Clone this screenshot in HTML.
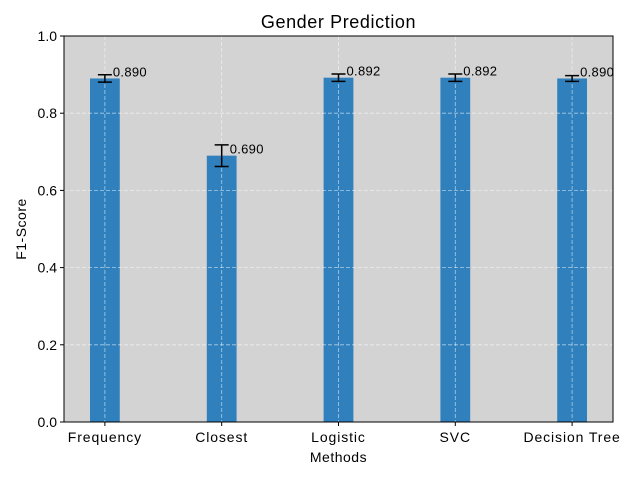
<!DOCTYPE html>
<html><head><meta charset="utf-8"><style>
body{margin:0;background:#fff}
text{font-family:"Liberation Sans","DejaVu Sans",sans-serif;fill:#000}
</style></head><body>
<svg id="chart" width="640" height="480" xmlns="http://www.w3.org/2000/svg"></svg>
<script>
const categories=["Frequency","Closest","Logistic","SVC","Decision Tree"];
const values=[0.890,0.690,0.892,0.892,0.890];
const errors=[0.0095,0.028,0.0095,0.0095,0.0075];
const labels=["0.890","0.690","0.892","0.892","0.890"];
const yTicks=[0,0.2,0.4,0.6,0.8,1.0];
const yTickLabels=["0.0","0.2","0.4","0.6","0.8","1.0"];
const L=64,R=613,T=36,B=422;
const xmin=-0.35,xmax=4.35;
const X=v=>L+(v-xmin)/(xmax-xmin)*(R-L);
const Y=v=>B-v*(B-T);
const svg=document.getElementById('chart');
const NS="http://www.w3.org/2000/svg";
function mk(tag,attrs,txt){const e=document.createElementNS(NS,tag);for(const k in attrs)e.setAttribute(k,attrs[k]);if(txt!==undefined)e.textContent=txt;svg.appendChild(e);return e;}
let e=mk('rect',{x:L,y:T,width:R-L,height:B-T,fill:'#d3d3d3'});


const bw=X(0.255)-X(0);
categories.forEach((c,i)=>{
  const b=mk('rect',{x:X(i)-bw/2,y:Y(values[i]),width:bw,height:B-Y(values[i]),fill:'#3080bd'});
  
  
});
yTicks.forEach(t=>{const g=mk('line',{x1:L,x2:R,y1:Y(t),y2:Y(t),stroke:'#fff','stroke-opacity':0.6,'stroke-dasharray':'4,2','stroke-width':0.8});

});
categories.forEach((c,i)=>{const g=mk('line',{x1:X(i),x2:X(i),y1:T,y2:B,stroke:'#fff','stroke-opacity':0.6,'stroke-dasharray':'4,2','stroke-width':0.8});

});
categories.forEach((c,i)=>{
  const x=X(i),y1=Y(values[i]+errors[i]),y2=Y(values[i]-errors[i]);
  const g=mk('path',{d:`M${x},${y1}V${y2}M${x-7},${y1}H${x+7}M${x-7},${y2}H${x+7}`,stroke:'#000','stroke-width':1.5,fill:'none'});
  
  
  const t=mk('text',{x:x+8,y:Y(values[i])-2,'font-size':13,'letter-spacing':0.3},labels[i]);
  
  
  const tk=mk('line',{x1:x,x2:x,y1:B,y2:B+4,stroke:'#000'});
  
  
  const tl=mk('text',{x:x,y:B+20,'font-size':14,'letter-spacing':0.9,'text-anchor':'middle'},c);
  
  
});
yTicks.forEach((t,i)=>{
  const tk=mk('line',{x1:L-4,x2:L,y1:Y(t),y2:Y(t),stroke:'#000'});
  
  
  const tl=mk('text',{x:L-7,y:Y(t)+5,'font-size':14,'text-anchor':'end'},yTickLabels[i]);
  
  
});
e=mk('rect',{x:L,y:T,width:R-L,height:B-T,fill:'none',stroke:'#000','stroke-width':1});


e=mk('text',{x:(L+R)/2,y:28,'font-size':18,'letter-spacing':0.6,'text-anchor':'middle'},'Gender Prediction');


e=mk('text',{x:(L+R)/2,y:462,'font-size':14,'letter-spacing':0.5,'text-anchor':'middle'},'Methods');


e=mk('text',{x:26,y:(T+B)/2,'font-size':14,'letter-spacing':0.5,'text-anchor':'middle',transform:`rotate(-90 26 ${(T+B)/2})`},'F1-Score');


</script>
</body></html>
